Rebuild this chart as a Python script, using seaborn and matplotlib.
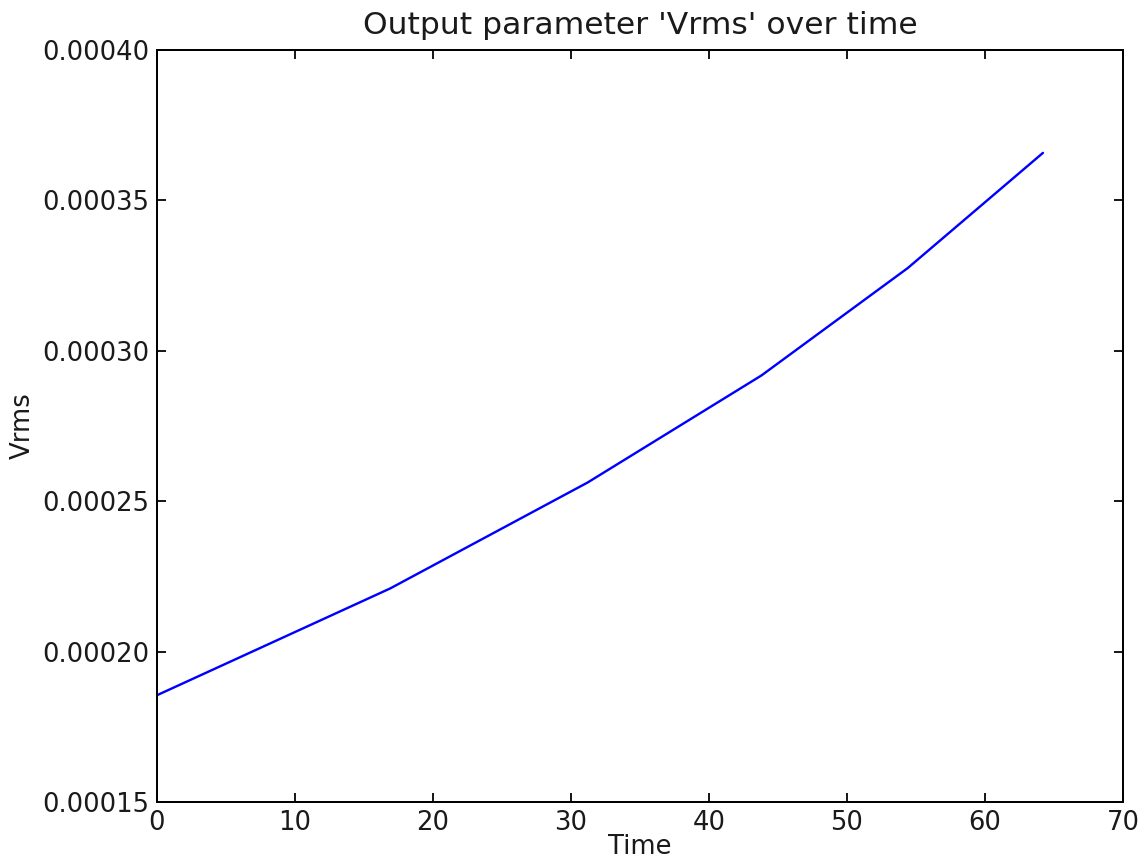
import numpy as np
import pandas as pd
import seaborn as sns
from matplotlib import pyplot as plt

# Data
time = [0.0, 16.9, 31.2, 43.8, 54.4, 64.2]
vrms = [0.0001855, 0.000221, 0.0002562, 0.0002918, 0.0003275, 0.0003658]

df = pd.DataFrame({"Time": time, "Vrms": vrms})

sns.set_theme(style="ticks", rc={
    "xtick.direction": "in", "ytick.direction": "in",
    "xtick.top": True, "ytick.right": True,
    "xtick.major.size": 4.5, "ytick.major.size": 4.5,
    "xtick.major.width": 0.9, "ytick.major.width": 0.9,
    "axes.edgecolor": "black", "axes.linewidth": 1.0,
    "xtick.color": "black", "ytick.color": "black",
    "text.color": "#1a1a1a", "axes.labelcolor": "#1a1a1a",
})
plt.rcParams["font.family"] = ["DejaVu Sans"]

dpi = 143
fig = plt.figure(figsize=(1141 / dpi, 859 / dpi), dpi=dpi)
ax = fig.add_axes([157 / 1141, 57 / 859, (1123 - 157) / 1141, (802 - 50) / 859])

sns.lineplot(data=df, x="Time", y="Vrms", color="#0000ff", linewidth=1.2, ax=ax)

ax.set_xlim(0, 70)
ax.set_ylim(0.00015, 0.0004)
ax.set_xticks(np.arange(0, 71, 10))
ax.set_yticks([0.00015, 0.0002, 0.00025, 0.0003, 0.00035, 0.0004])
ax.set_yticklabels(["0.00015", "0.00020", "0.00025", "0.00030", "0.00035", "0.00040"])
ax.tick_params(labelsize=13, labelcolor="#1a1a1a", pad=4)
ax.set_xlabel("Time", fontsize=13, labelpad=-1)
ax.set_ylabel("Vrms", fontsize=13, labelpad=3)
ax.set_title("Output parameter 'Vrms' over time", fontsize=15.8, pad=8)

fig.savefig("out.png", dpi=dpi)
